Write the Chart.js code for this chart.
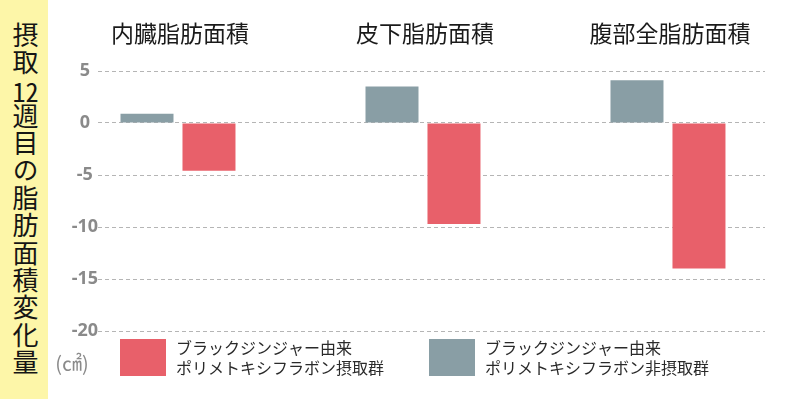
<!DOCTYPE html>
<html>
<head>
<meta charset="utf-8">
<script src="https://cdn.jsdelivr.net/npm/chart.js"></script>
<style>
    html, body { margin: 0; padding: 0; background: #fff; }
    #wrap { position: relative; width: 786px; height: 399px; overflow: hidden; }
    #side {
        position: absolute; left: 0; top: 0; width: 48px; height: 399px;
        background: #fdf6a8;
    }
    #side span {
        position: absolute; left: 11px; top: 22px;
        writing-mode: vertical-rl;
        font-family: "Noto Sans CJK JP", sans-serif;
        font-size: 26px; line-height: 28px; letter-spacing: 1.4px;
        color: #151515;
    }
    #side span b { font-weight: normal; text-combine-upright: all; }
    #chart { position: absolute; left: 0; top: 0; }
</style>
</head>
<body>
<div id="wrap">
    <div id="side"><span>摂取<b>12</b>週目の脂肪面積変化量</span></div>
    <canvas id="chart" width="786" height="399"></canvas>
</div>
<script>
// values (cm²)
const categories = ["内臓脂肪面積", "皮下脂肪面積", "腹部全脂肪面積"];
const controlValues = [0.9, 3.5, 4.1];      // 非摂取群 (gray)
const intakeValues = [-4.6, -9.7, -14.0];   // 摂取群 (red)
const yTicks = [5, 0, -5, -10, -15, -20];
const intakeLabel = ["ブラックジンジャー由来", "ポリメトキシフラボン摂取群"];
const controlLabel = ["ブラックジンジャー由来", "ポリメトキシフラボン非摂取群"];
const unitLabel = "(㎠)";

const RED = "#e8606a";
const GRAY = "#899ea5";

const toPoints = vals => vals.map((v, i) => ({ x: i, y: v }));

// category titles, legend and unit, drawn on top of the chart
const extras = {
    id: "extras",
    afterDraw(chart) {
        const ctx = chart.ctx;
        const x = chart.scales.x;
        ctx.save();
        ctx.fillStyle = "#1a1a1a";
        ctx.font = '23px "Noto Sans CJK JP"';
        ctx.textAlign = "center";
        ctx.textBaseline = "middle";
        categories.forEach((c, i) => {
            ctx.fillText(c, x.getPixelForValue(i) + 2, 33);
        });

        ctx.fillStyle = "#8a8a8a";
        ctx.font = '20px "Noto Sans CJK JP"';
        ctx.fillText(unitLabel, 72, 363);

        const items = [
            { color: RED, text: intakeLabel, bx: 120 },
            { color: GRAY, text: controlLabel, bx: 429 }
        ];
        ctx.textAlign = "left";
        ctx.font = '16px "Noto Sans CJK JP"';
        items.forEach(it => {
            ctx.fillStyle = it.color;
            ctx.fillRect(it.bx, 339, 46, 37);
            ctx.fillStyle = "#2a2a2a";
            ctx.fillText(it.text[0], it.bx + 56, 348);
            ctx.fillText(it.text[1], it.bx + 56, 368);
        });
        ctx.restore();
    }
};

new Chart(document.getElementById("chart"), {
    type: "bar",
    data: {
        datasets: [
            { label: controlLabel.join(""), data: toPoints(controlValues), backgroundColor: GRAY },
            { label: intakeLabel.join(""), data: toPoints(intakeValues), backgroundColor: RED }
        ]
    },
    options: {
        responsive: false,
        animation: false,
        events: [],
        barPercentage: 0.855,
        categoryPercentage: 0.506,
        layout: { padding: { left: 48, right: 21, top: 71, bottom: 68 } },
        plugins: { legend: { display: false }, tooltip: { enabled: false } },
        scales: {
            x: {
                type: "linear",
                min: -0.3265,
                max: 2.396,
                offset: false,
                display: false,
                afterBuildTicks: s => { s.ticks = categories.map((c, i) => ({ value: i })); }
            },
            y: {
                min: -20,
                max: 5,
                afterBuildTicks: s => { s.ticks = yTicks.map(v => ({ value: v })); },
                afterFit: s => { s.width = 50; },
                grid: {
                    color: "#b5b5b5",
                    lineWidth: 1,
                    drawTicks: false
                },
                border: { display: false, dash: [4, 3] },
                ticks: {
                    crossAlign: "center",
                    padding: 0,
                    color: "#8a8a8a",
                    font: { family: "Noto Sans", weight: "bold", size: 18 }
                }
            }
        }
    },
    plugins: [extras]
});
</script>
</body>
</html>
